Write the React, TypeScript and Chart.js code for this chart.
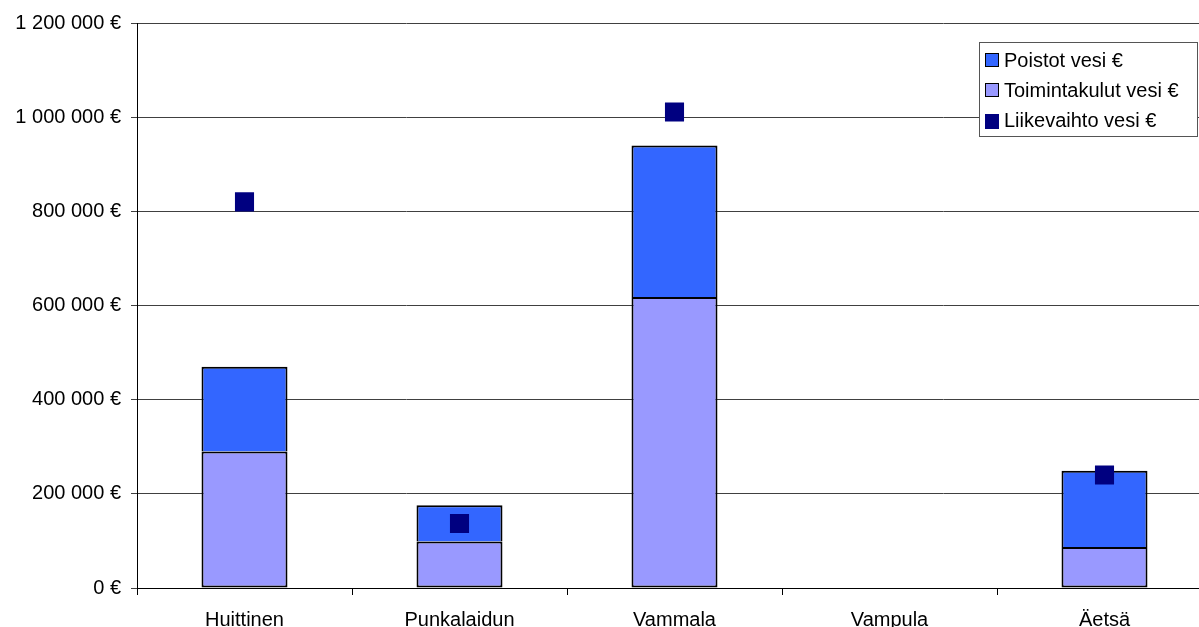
import React, { useEffect, useRef } from 'react';
import { Chart, registerables } from 'chart.js';

Chart.register(...registerables);

const categories = ['Huittinen', 'Punkalaidun', 'Vammala', 'Vampula', 'Äetsä'];
const toimintakulut = [290000, 99000, 618000, null, 87000];
const poistot = [180000, 77000, 322000, null, 162000];
const liikevaihto = [820000, 137000, 1011000, null, 240000];

const FONT = '"Liberation Sans", Arial, sans-serif';

function fmt(v: number): string {
  return String(v).replace(/\B(?=(\d{3})+(?!\d))/g, ' ') + ' €';
}

const boxLegend = {
  id: 'boxLegend',
  afterDraw(chart: any) {
    const ctx = chart.ctx;
    const ds = chart.data.datasets;
    const items = [ds[1], ds[0], ds[2]];
    const x = 979.5, y = 42.5, w = 218, h = 94;
    ctx.save();
    ctx.fillStyle = '#ffffff';
    ctx.fillRect(x, y, w, h);
    ctx.strokeStyle = '#555555';
    ctx.lineWidth = 1;
    ctx.strokeRect(x, y, w, h);
    ctx.font = '20px ' + FONT;
    ctx.textBaseline = 'middle';
    ctx.textAlign = 'left';
    items.forEach((d: any, i: number) => {
      const cy = 60 + i * 30;
      if (d.type === 'line') {
        ctx.fillStyle = d.pointBackgroundColor;
        ctx.fillRect(985, cy - 6, 14, 15);
      } else {
        ctx.fillStyle = d.backgroundColor;
        ctx.fillRect(985.5, cy - 6.5, 13, 13);
        ctx.strokeStyle = '#000';
        ctx.strokeRect(985.5, cy - 6.5, 13, 13);
      }
      ctx.fillStyle = '#000';
      ctx.fillText(d.label, 1004, cy + 1);
    });
    ctx.restore();
  },
};

export default function App() {
  const ref = useRef<HTMLCanvasElement>(null);
  useEffect(() => {
    document.body.style.margin = '0';
    const chart = new Chart(ref.current as HTMLCanvasElement, {
      type: 'bar',
      data: {
        labels: categories,
        datasets: [
          {
            type: 'bar',
            label: 'Toimintakulut vesi €',
            data: toimintakulut,
            backgroundColor: '#9999FF',
            borderColor: '#000000',
            borderWidth: 2,
            borderSkipped: false,
            barPercentage: 0.4,
            categoryPercentage: 1,
            order: 1,
          },
          {
            type: 'bar',
            label: 'Poistot vesi €',
            data: poistot,
            backgroundColor: '#3366FF',
            borderColor: '#000000',
            borderWidth: 2,
            borderSkipped: 'bottom',
            barPercentage: 0.4,
            categoryPercentage: 1,
            order: 1,
          },
          {
            type: 'line',
            label: 'Liikevaihto vesi €',
            data: liikevaihto,
            showLine: false,
            pointStyle: 'rect',
            pointRadius: 13.5,
            pointBorderWidth: 0,
            pointBackgroundColor: '#000080',
            pointBorderColor: '#000080',
            stack: 'marker',
            order: 0,
          } as any,
        ],
      },
      options: {
        animation: false,
        responsive: false,
        layout: { autoPadding: false, padding: { top: 23, right: 0, bottom: 0, left: 0 } },
        plugins: { legend: { display: false }, tooltip: { enabled: false } },
        scales: {
          x: {
            stacked: true,
            offset: true,
            grid: {
              offset: true,
              drawOnChartArea: false,
              drawTicks: true,
              tickLength: 7,
              color: '#000',
            },
            border: { color: '#000', width: 1 },
            ticks: { color: '#000', font: { family: FONT, size: 20 }, padding: 13, maxRotation: 0 },
            afterFit(scale: any) {
              scale.height = 39;
            },
          },
          y: {
            stacked: true,
            min: 0,
            max: 1200000,
            grid: { color: '#404040', tickLength: 6, lineWidth: 1 },
            border: { color: '#000', width: 1 },
            ticks: {
              stepSize: 200000,
              color: '#000',
              padding: 10,
              font: { family: FONT, size: 20 },
              callback: (v: any) => fmt(Number(v)),
            },
            afterFit(scale: any) {
              scale.width = 137;
            },
          },
        },
      },
      plugins: [boxLegend],
    });
    return () => chart.destroy();
  }, []);
  return (
    <div style={{ width: 1199, height: 627, overflow: 'hidden' }}>
      <canvas ref={ref} width={1212} height={627} style={{ display: 'block' }} />
    </div>
  );
}
